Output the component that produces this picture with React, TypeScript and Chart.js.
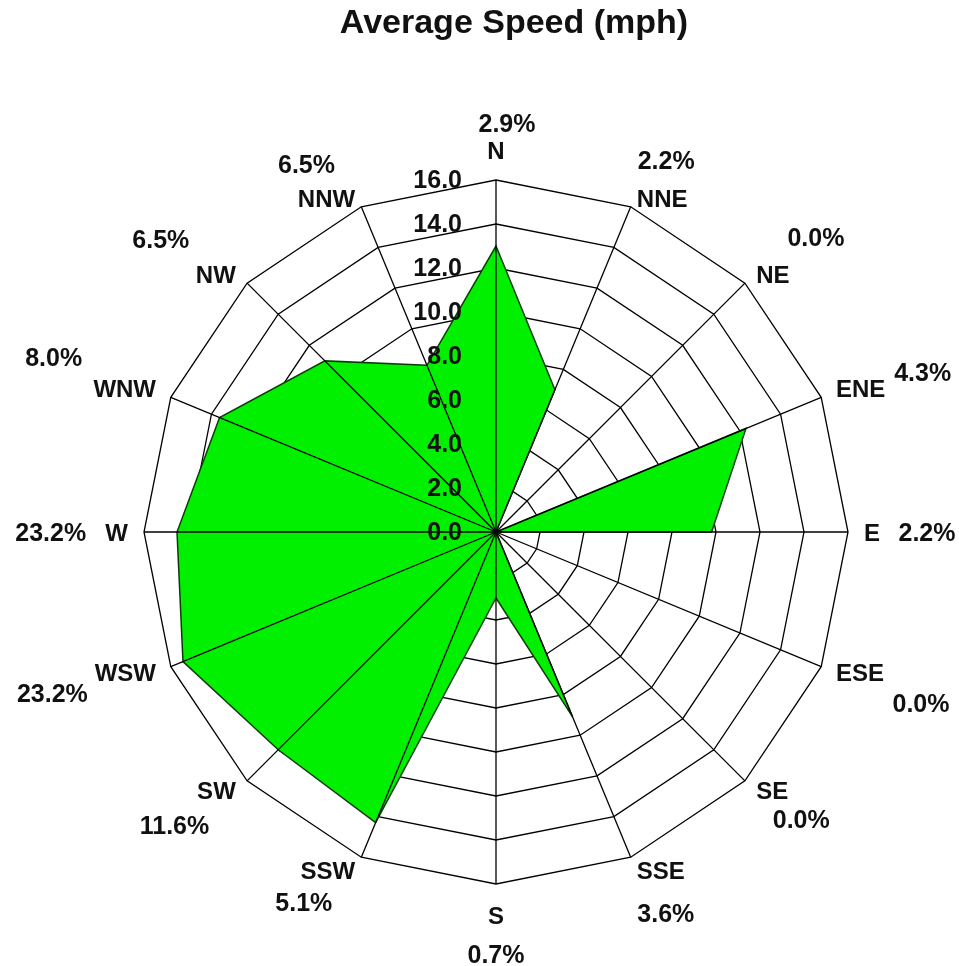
import React, { useEffect, useRef } from "react";
import { Chart, registerables } from "chart.js";

Chart.register(...registerables);

const TITLE = "Average Speed (mph)";
const DIRECTIONS = ["N", "NNE", "NE", "ENE", "E", "ESE", "SE", "SSE", "S", "SSW", "SW", "WSW", "W", "WNW", "NW", "NNW"];
const AVG_SPEED = [13.0, 7.0, 0, 12.3, 9.8, 0, 0, 9.1, 3.0, 14.3, 14.0, 15.4, 14.5, 13.6, 11.0, 8.2];
const FREQUENCY_PCT = [2.9, 2.2, 0.0, 4.3, 2.2, 0.0, 0.0, 3.6, 0.7, 5.1, 11.6, 23.2, 23.2, 8.0, 6.5, 6.5];
const SPEED_MIN = 0;
const SPEED_MAX = 16;
const SPEED_STEP = 2;

// layout: offset of each frequency label from its direction label (px)
const PCT_LABEL_OFFSET: [number, number][] = [
  [11, -27], [4, -38], [43, -37], [62, -17], [55, 0], [61, 30], [29, 29], [5, 43],
  [0, 38], [-24, 32], [-42, 35], [-73, 20], [-66, 0], [-71, -32], [-55, -35], [-20, -34],
];

const FONT = '"Liberation Sans", Arial, sans-serif';

const overlay = {
  id: "roseOverlay",
  afterDatasetsDraw(chart: any) {
    const s = chart.scales.r;
    const ctx = chart.ctx as CanvasRenderingContext2D;
    const n = chart.data.labels.length;
    ctx.save();
    ctx.strokeStyle = "#000";
    ctx.lineWidth = 1.3;
    for (let i = 0; i < n; i++) {
      const p = s.getPointPosition(i, s.drawingArea);
      ctx.beginPath();
      ctx.moveTo(s.xCenter, s.yCenter);
      ctx.lineTo(p.x, p.y);
      ctx.stroke();
    }
    ctx.font = `bold 25px ${FONT}`;
    ctx.fillStyle = "#111";
    ctx.textAlign = "right";
    ctx.textBaseline = "middle";
    s.ticks.forEach((t: any) => {
      const d = s.getDistanceFromCenterForValue(t.value);
      ctx.fillText(Number(t.value).toFixed(1), s.xCenter - 34, s.yCenter - d + 1);
    });
    ctx.restore();
  },
  afterDraw(chart: any) {
    const s = chart.scales.r;
    const ctx = chart.ctx as CanvasRenderingContext2D;
    const labels: string[] = chart.data.labels;
    const n = labels.length;
    const R = s.drawingArea;
    ctx.save();
    ctx.fillStyle = "#111";
    ctx.textBaseline = "alphabetic";

    const capL = 0.716 * 24;
    const capP = 0.716 * 25;
    for (let i = 0; i < n; i++) {
      const th = (i * 2 * Math.PI) / n;
      const sn = Math.sin(th);
      const cs = Math.cos(th);
      const v = s.getPointPosition(i, R);
      ctx.font = `bold 24px ${FONT}`;
      const w = ctx.measureText(labels[i]).width;
      let cx: number, cy: number;
      if (Math.abs(sn) < 0.01) {
        cx = v.x;
        cy = cs > 0 ? v.y - 21 - capL / 2 : v.y + 23 + capL / 2;
      } else {
        const x0 = v.x + 16 * sn;
        cx = sn > 0 ? x0 + w / 2 : x0 - w / 2;
        if (Math.abs(cs) < 0.01) cy = v.y;
        else if (cs > 0) cy = v.y - capL / 2;
        else cy = v.y - 4 + 10 * cs * cs + capL / 2;
      }
      ctx.textAlign = "center";
      ctx.fillText(labels[i], cx, cy + capL / 2);

      ctx.font = `bold 25px ${FONT}`;
      const txt = FREQUENCY_PCT[i].toFixed(1) + "%";
      const off = PCT_LABEL_OFFSET[i];
      ctx.fillText(txt, cx + off[0], cy + off[1] + capP / 2);
    }

    // title
    ctx.font = `bold 34px ${FONT}`;
    ctx.textAlign = "center";
    ctx.textBaseline = "middle";
    ctx.fillText(TITLE, s.xCenter + 18, 24);
    ctx.restore();
  },
};

export default function App() {
  const ref = useRef<HTMLCanvasElement>(null);
  useEffect(() => {
    const chart = new Chart(ref.current as HTMLCanvasElement, {
      type: "radar",
      data: {
        labels: DIRECTIONS,
        datasets: [
          {
            label: TITLE,
            data: AVG_SPEED,
            backgroundColor: "#00F000",
            borderColor: "#0b3d0b",
            borderWidth: 1.5,
            pointRadius: 0,
            fill: true,
          },
        ],
      },
      options: {
        responsive: false,
        animation: false,
        layout: { padding: { left: 144, right: 111, top: 180, bottom: 82 } },
        plugins: {
          legend: { display: false },
          tooltip: { enabled: false },
          title: { display: false },
        },
        scales: {
          r: {
            min: SPEED_MIN,
            max: SPEED_MAX,
            ticks: { display: false, stepSize: SPEED_STEP },
            pointLabels: { display: false },
            angleLines: { display: false },
            grid: { color: "#000", lineWidth: 1.3 },
          },
        },
      } as any,
      plugins: [overlay],
    });
    return () => chart.destroy();
  }, []);
  return (
    <canvas
      ref={ref}
      width={959}
      height={966}
      style={{ display: "block", position: "absolute", left: 0, top: 0 }}
    />
  );
}
